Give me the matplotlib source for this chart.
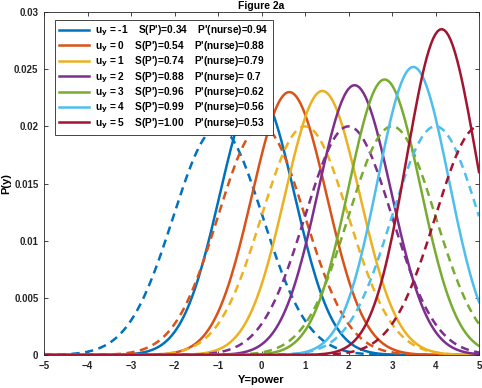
import numpy as np
import matplotlib.pyplot as plt

plt.rcParams['font.family'] = ['Liberation Sans', 'DejaVu Sans']

# values
u_y = [-1, 0, 1, 2, 3, 4, 5]
s_p = ['0.34', '0.54', '0.74', '0.88', '0.96', '0.99', '1.00']
p_nurse = ['0.94', '0.88', '0.79', ' 0.7', '0.62', '0.56', '0.53']

# solid curves (posterior): mode, peak height, spread
post_mode = [-0.1, 0.64, 1.40, 2.14, 2.83, 3.49, 4.14]
post_peak = [0.0231, 0.0230, 0.0231, 0.0236, 0.0241, 0.0252, 0.0285]
post_sd = [0.86, 0.86, 0.86, 0.84, 0.83, 0.82, 0.80]

# dashed curves (prior): mode, peak height, spread
prior_mode = [-1, 0, 1, 2, 3, 4, 5]
prior_peak = [0.0199, 0.0200, 0.0200, 0.0200, 0.0200, 0.0200, 0.0200]
prior_sd = [1.03, 1.0, 1.0, 1.0, 1.0, 1.0, 1.0]

colors = ['#0072BD', '#D95319', '#EDB120', '#7E2F8E', '#77AC30', '#4DBEEE', '#A2142F']

x = np.linspace(-5, 5, 201)

fig = plt.figure(figsize=(4.82, 3.88), dpi=100)
ax = fig.add_axes([44 / 482, 1 - 355 / 388, 435 / 482, 343 / 388])

handles = []
for i in range(len(u_y)):
    ys = post_peak[i] * np.exp(-0.5 * ((x - post_mode[i]) / post_sd[i]) ** 2)
    yd = prior_peak[i] * np.exp(-0.5 * ((x - prior_mode[i]) / prior_sd[i]) ** 2)
    h, = ax.plot(x, ys, color=colors[i], lw=1.8)
    ax.plot(x, yd, color=colors[i], lw=1.8, linestyle=(0, (3.3, 2.2)))
    handles.append(h)

labels = ['u$_{\\mathbf{y}}$ = %d    S(P\')=%s    P\'(nurse)=%s' % (u_y[i], s_p[i], p_nurse[i])
          for i in range(len(u_y))]

ax.set_xlim(-5, 5)
ax.set_ylim(0, 0.03)
ax.set_xticks(range(-5, 6))
ax.set_yticks([0, 0.005, 0.01, 0.015, 0.02, 0.025, 0.03])
ax.set_yticklabels(['0', '0.005', '0.01', '0.015', '0.02', '0.025', '0.03'])
ax.tick_params(direction='in', length=3, width=0.6, top=True, right=True,
               labelsize=7, colors='#262626', pad=4)
for lab in ax.get_xticklabels() + ax.get_yticklabels():
    lab.set_fontweight('bold')
for sp in ax.spines.values():
    sp.set_color('#262626')
    sp.set_linewidth(0.6)

ax.set_xlabel('Y=power', fontsize=8, fontweight='bold', labelpad=3)
ax.set_ylabel('P(y)', fontsize=8, fontweight='bold', labelpad=2)
ax.set_title('Figure 2a', fontsize=7.5, fontweight='bold', pad=2)

leg = ax.legend(handles, labels, loc='upper left', bbox_to_anchor=(0.025, 0.977),
                prop={'size': 7.3, 'weight': 'bold'}, handlelength=3.0,
                handletextpad=0.6, labelspacing=0.1, borderpad=0.4,
                fancybox=False, framealpha=1, edgecolor='#262626', borderaxespad=0)
leg.get_frame().set_linewidth(0.6)

fig.savefig('out.png', dpi=100)
